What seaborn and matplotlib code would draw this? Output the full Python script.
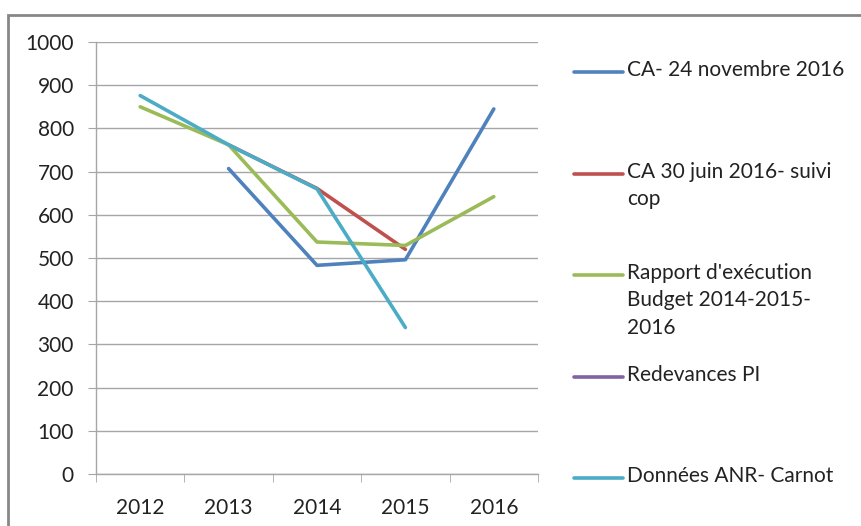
import pandas as pd
import numpy as np
import matplotlib
matplotlib.use('Agg')
import matplotlib.pyplot as plt
import seaborn as sns
from matplotlib.lines import Line2D
from matplotlib.patches import Rectangle

# données
annees = [2012, 2013, 2014, 2015, 2016]
ca_nov = [np.nan, 707, 483, 496, 845]
ca_juin = [np.nan, 762, 661, 520, np.nan]
rapport = [850, 762, 537, 529, 642]
redevances = [np.nan, np.nan, np.nan, np.nan, np.nan]
anr = [876, 762, 660, 339, np.nan]

series = ['CA- 24 novembre 2016', 'CA 30 juin 2016- suivi\ncop',
          "Rapport d'exécution\nBudget 2014-2015-\n2016", 'Redevances PI',
          'Données ANR- Carnot']
couleurs = ['#4F81BD', '#C0504D', '#9BBB59', '#8064A2', '#4BACC6']

rows = []
for nom, vals in zip(series, [ca_nov, ca_juin, rapport, redevances, anr]):
    for a, v in zip(annees, vals):
        rows.append({'annee': a, 'valeur': v, 'serie': nom})
df = pd.DataFrame(rows)

sns.set_style('white')
plt.rcParams['font.family'] = ['Lato', 'DejaVu Sans']

fig = plt.figure(figsize=(8.61, 5.26), dpi=100)
ax = fig.add_axes([96 / 861, 1 - 474 / 526, (538 - 96) / 861, (474 - 42) / 526])

# ligne par série (les NaN aux extrémités sont ignorés)
for nom, c in zip(series, couleurs):
    d = df[df['serie'] == nom].dropna()
    if len(d) == 0:
        continue
    sns.lineplot(data=d, x='annee', y='valeur', color=c, lw=2.6, ax=ax,
                 sort=False, legend=False, solid_capstyle='round',
                 solid_joinstyle='round')

ax.set_xlim(annees[0] - 0.5, annees[-1] + 0.5)
ax.set_ylim(0, 1000)
ax.set_yticks(np.arange(0, 1001, 100))
ax.set_xticks(annees)
ax.set_xticklabels([str(a) for a in annees])
ax.set_xticks(np.arange(annees[0] - 0.5, annees[-1] + 0.6, 1), minor=True)
ax.yaxis.grid(True, color='#A6A6A6', lw=1)
ax.set_axisbelow(True)
for s in ['top', 'right']:
    ax.spines[s].set_visible(False)
for s in ['left', 'bottom']:
    ax.spines[s].set_color('#A6A6A6')
    ax.spines[s].set_linewidth(1)
ax.tick_params(axis='y', length=6, color='#A6A6A6', labelsize=15, pad=10,
               labelcolor='#222222', left=True)
ax.tick_params(axis='x', which='major', length=0, labelsize=15, pad=17,
               labelcolor='#222222')
ax.tick_params(axis='x', which='minor', length=6, color='#A6A6A6', bottom=True)
ax.set_xlabel('')
ax.set_ylabel('')

# légende à droite, comme dans Excel
y0 = 72
for i, (nom, c) in enumerate(zip(series, couleurs)):
    y = 1 - (y0 + i * 101.6) / 526
    fig.add_artist(Line2D([574 / 861, 623 / 861], [y, y], color=c, lw=2.6,
                          transform=fig.transFigure, solid_capstyle='round'))
    fig.text(627 / 861, y + 12 / 526, nom, fontsize=15, va='top', ha='left',
             color='#222222', linespacing=1.45)

# cadre du graphique
fig.add_artist(Rectangle((8 / 861, -0.2), 1.1, 1 - 15 / 526 + 0.2,
                         transform=fig.transFigure, fill=False,
                         ec='#878787', lw=2))

plt.savefig('out.png', dpi=100)
